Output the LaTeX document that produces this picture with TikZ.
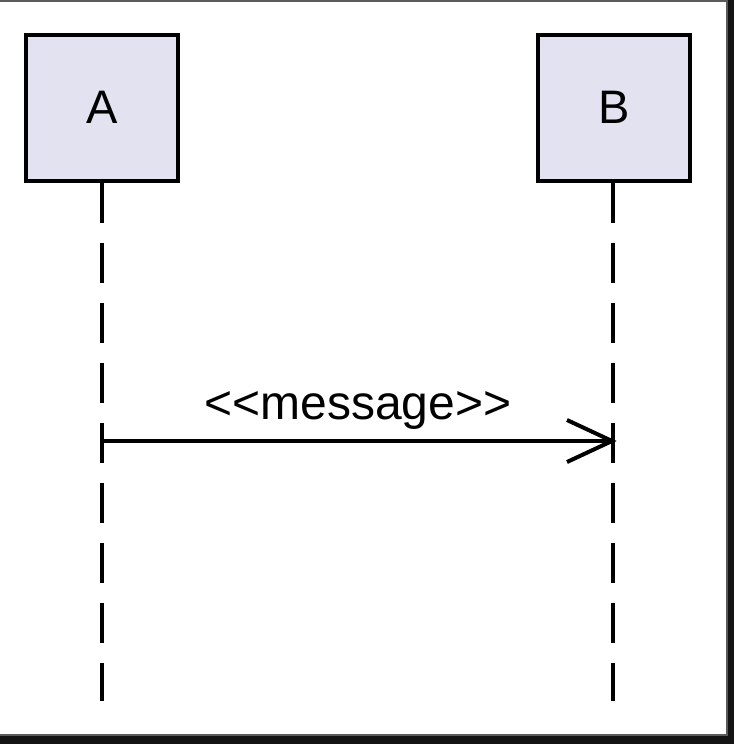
\documentclass[tikz,border=0pt]{standalone}
\usepackage{fontspec}
\setmainfont{Liberation Sans}
\definecolor{partfill}{HTML}{E2E2F0}
\definecolor{darkedge}{HTML}{141414}
\definecolor{grayedge}{HTML}{5A5A5A}
\begin{document}
\begin{tikzpicture}[x=1pt,y=-1pt,
  participant/.style={draw=black,line width=4pt,fill=partfill,minimum width=152pt,minimum height=146pt,inner sep=0pt,font=\fontsize{47}{50}\selectfont},
  lifeline/.style={line width=4pt,dash pattern=on 40pt off 20pt},
  msg/.style={line width=3.5pt},
  arrowhead/.style={line width=4pt,line cap=butt}]
  \useasboundingbox (0,0) rectangle (734,744);
  \fill[darkedge] (0,0) rectangle (734,744);
  \fill[grayedge] (0,0) rectangle (728,736);
  \fill[white] (0,1.5) rectangle (726,734);
  \node[participant] (A) at (102,107.5) {A};
  \node[participant] (B) at (614,107.5) {B};
  \coordinate (Aend) at (102,701);
  \coordinate (Bend) at (613,701);
  \draw[lifeline] (A.south) -- (Aend);
  \draw[lifeline] (B.south -| Bend) -- (Bend);
  \coordinate (m1) at (102,441);
  \coordinate (m2) at (612,441);
  \draw[msg] (m1) -- (m2);
  \draw[arrowhead] (567,420) -- (m2) -- (567,462);
  \node[anchor=base,inner sep=0pt,font=\fontsize{48}{52}\selectfont] (lbl) at (358,419) {<{}<message>{}>};
\end{tikzpicture}
\end{document}
